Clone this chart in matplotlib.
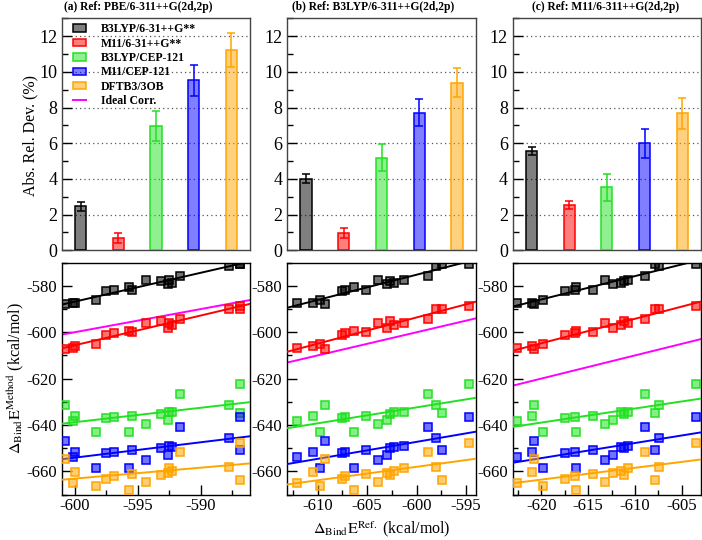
import numpy as np
import matplotlib.pyplot as plt
from matplotlib.ticker import MultipleLocator
from matplotlib.colors import to_rgba

plt.rcParams['font.family'] = ['Liberation Serif', 'DejaVu Serif']
plt.rcParams['mathtext.fontset'] = 'stix'
plt.rcParams['axes.unicode_minus'] = False

# methods / colours (grace style)
methods = ['B3LYP/6-31++G**', 'M11/6-31++G**', 'B3LYP/CEP-121', 'M11/CEP-121', 'DFTB3/3OB']
colors = ['#000000', '#ff0000', '#22e022', '#0000ff', '#ffa500']
titles = ['(a) Ref: PBE/6-311++G(2d,2p)',
          '(b) Ref: B3LYP/6-311++G(2d,2p)',
          '(c) Ref: M11/6-311++G(2d,2p)']

# abs. rel. deviation (%) and error bars, one list per reference
dev_pbe = [2.47, 0.69, 6.95, 9.53, 11.21]
err_pbe = [0.26, 0.30, 0.85, 0.87, 0.96]
dev_b3lyp = [4.02, 0.97, 5.20, 7.72, 9.40]
err_b3lyp = [0.27, 0.27, 0.75, 0.77, 0.83]
dev_m11 = [5.57, 2.52, 3.53, 6.00, 7.68]
err_m11 = [0.23, 0.22, 0.77, 0.80, 0.87]

# reference binding energies (kcal/mol) of the 17 systems
ref_pbe = [-600.79, -600.00, -600.13, -598.28, -597.53, -596.87, -595.71, -595.44, -594.31,
           -593.12, -592.53, -592.59, -592.27, -591.61, -587.75, -586.87, -586.87]
ref_b3lyp = [-609.25, -610.51, -612.13, -609.76, -607.57, -607.23, -606.32, -605.10, -603.86,
             -602.67, -601.26, -603.02, -602.27, -598.90, -598.06, -594.68, -597.45]
ref_m11 = [-620.78, -621.00, -622.56, -619.82, -617.50, -616.44, -616.26, -614.48, -613.23,
           -611.17, -610.75, -612.35, -611.53, -608.90, -607.47, -603.46, -607.83]

# binding energies with each cheaper method
e_b3lyp_631 = [-588.0, -587.2, -587.6, -586.2, -582.2, -581.9, -580.4, -581.8, -577.5,
               -577.8, -577.6, -579.4, -578.6, -575.6, -571.4, -570.7, -570.5]
e_m11_631 = [-607.2, -606.1, -606.9, -605.1, -601.0, -600.2, -599.3, -600.0, -596.1,
             -595.1, -596.1, -598.1, -596.9, -594.1, -590.0, -588.5, -590.0]
e_b3lyp_cep = [-631.5, -636.3, -638.4, -643.1, -636.9, -636.7, -643.1, -636.0, -639.8,
               -635.2, -634.4, -638.0, -634.6, -626.6, -631.3, -622.3, -635.0]
e_m11_cep = [-647.0, -651.7, -653.8, -658.4, -652.0, -651.7, -658.4, -651.0, -655.1,
             -650.1, -649.1, -653.1, -649.3, -641.0, -645.8, -636.7, -651.0]
e_dftb3 = [-654.9, -660.1, -665.0, -666.4, -663.4, -662.0, -668.1, -661.2, -664.4,
           -661.8, -658.7, -660.8, -659.8, -651.5, -658.1, -647.7, -663.7]

refs = [ref_pbe, ref_b3lyp, ref_m11]
devs = [dev_pbe, dev_b3lyp, dev_m11]
errs = [err_pbe, err_b3lyp, err_m11]
energies = [e_b3lyp_631, e_m11_631, e_b3lyp_cep, e_m11_cep, e_dftb3]
xlims = [(-601.0, -586.1), (-613.1, -594.0), (-623.05, -602.95)]

W, H = 702, 540
fig = plt.figure(figsize=(W / 100, H / 100), dpi=100)

lefts = [62, 287, 512.7]
widths = [188, 189, 188.3]
title_x = [138, 373.5, 606]

legend_handles = []
for k in range(3):
    # ---- bar panel
    axb = fig.add_axes([lefts[k] / W, 1 - 250.3 / H, widths[k] / W, 232 / H])
    pos = np.arange(1, 6)
    bars = []
    for i in range(5):
        b = axb.bar(pos[i], devs[k][i], width=0.3, facecolor=to_rgba(colors[i], 0.5),
                    edgecolor=colors[i], linewidth=1.1, zorder=3, label=methods[i])
        axb.errorbar(pos[i], devs[k][i], yerr=errs[k][i], fmt='none', ecolor=colors[i],
                     elinewidth=1.1, capsize=3.2, capthick=1.1, zorder=4)
        bars.append(b)
    axb.set_xlim(0.5, 5.5)
    axb.set_ylim(0, 13)
    axb.set_xticks([])
    axb.yaxis.set_major_locator(MultipleLocator(2))
    axb.yaxis.set_minor_locator(MultipleLocator(1))
    axb.tick_params(axis='y', which='major', direction='in', length=7, width=1, labelsize=13, pad=3.5)
    axb.tick_params(axis='y', which='minor', direction='in', length=4, width=1)
    for yv in range(2, 13, 2):
        axb.axhline(yv, color='#555555', linestyle=(0, (1, 2.5)), linewidth=0.9, zorder=1)
    for s in axb.spines.values():
        s.set_color('#444444')
        s.set_linewidth(1.0)
    fig.text(title_x[k] / W, 1 - 7 / H, titles[k], ha='center', va='center',
             fontsize=8.3, fontweight='bold')
    if k == 0:
        legend_handles = bars
        axb_first = axb

    # ---- correlation panel
    axs = fig.add_axes([lefts[k] / W, 1 - 494.5 / H, widths[k] / W, 231.8 / H])
    xs = np.array(xlims[k])
    ideal, = axs.plot(xs, xs, color='#ff00ff', linewidth=1.4, zorder=2, label='Ideal Corr.')
    x = np.array(refs[k])
    for i in range(5):
        y = np.array(energies[i])
        coef = np.polyfit(x, y, 1)
        axs.plot(xs, np.polyval(coef, xs), color=colors[i], linewidth=1.4, zorder=3)
        axs.plot(x, y, linestyle='none', marker='s', markersize=5.2,
                 markerfacecolor=to_rgba(colors[i], 0.55), markeredgecolor=colors[i],
                 markeredgewidth=1.1, zorder=4)
    axs.set_xlim(*xlims[k])
    axs.set_ylim(-670, -570)
    axs.xaxis.set_major_locator(MultipleLocator(5))
    axs.xaxis.set_minor_locator(MultipleLocator(2.5))
    axs.yaxis.set_major_locator(MultipleLocator(20))
    axs.yaxis.set_minor_locator(MultipleLocator(10))
    axs.tick_params(which='major', direction='in', length=7, width=1, labelsize=12)
    axs.tick_params(which='minor', direction='in', length=3.5, width=1)
    axs.tick_params(axis='y', pad=3.5)
    axs.tick_params(axis='x', pad=2.5)
    for s in axs.spines.values():
        s.set_linewidth(1.0)
    if k == 0:
        ideal_handle = ideal

axb_first.legend(handles=legend_handles + [ideal_handle], loc='upper left',
                 bbox_to_anchor=(0.06, 0.978), frameon=False, borderaxespad=0, borderpad=0,
                 handlelength=1.05, handleheight=0.6, handletextpad=1.3, labelspacing=0.2,
                 prop={'weight': 'bold', 'size': 8.5})

fig.text(30 / W, 1 - 136 / H, 'Abs. Rel. Dev. (%)', rotation=90, ha='center', va='center', fontsize=11.5)
fig.text(16 / W, 1 - 378 / H, r'$\Delta_{\mathrm{Bind}}\mathrm{E}^{\mathrm{Method}}$ (kcal/mol)',
         rotation=90, ha='center', va='center', fontsize=11.5)
fig.text(381.5 / W, 1 - 529 / H, r'$\Delta_{\mathrm{Bind}}\mathrm{E}^{\mathrm{Ref.}}$ (kcal/mol)',
         ha='center', va='center', fontsize=11.5)

fig.savefig('out.png', dpi=100, facecolor='white')
